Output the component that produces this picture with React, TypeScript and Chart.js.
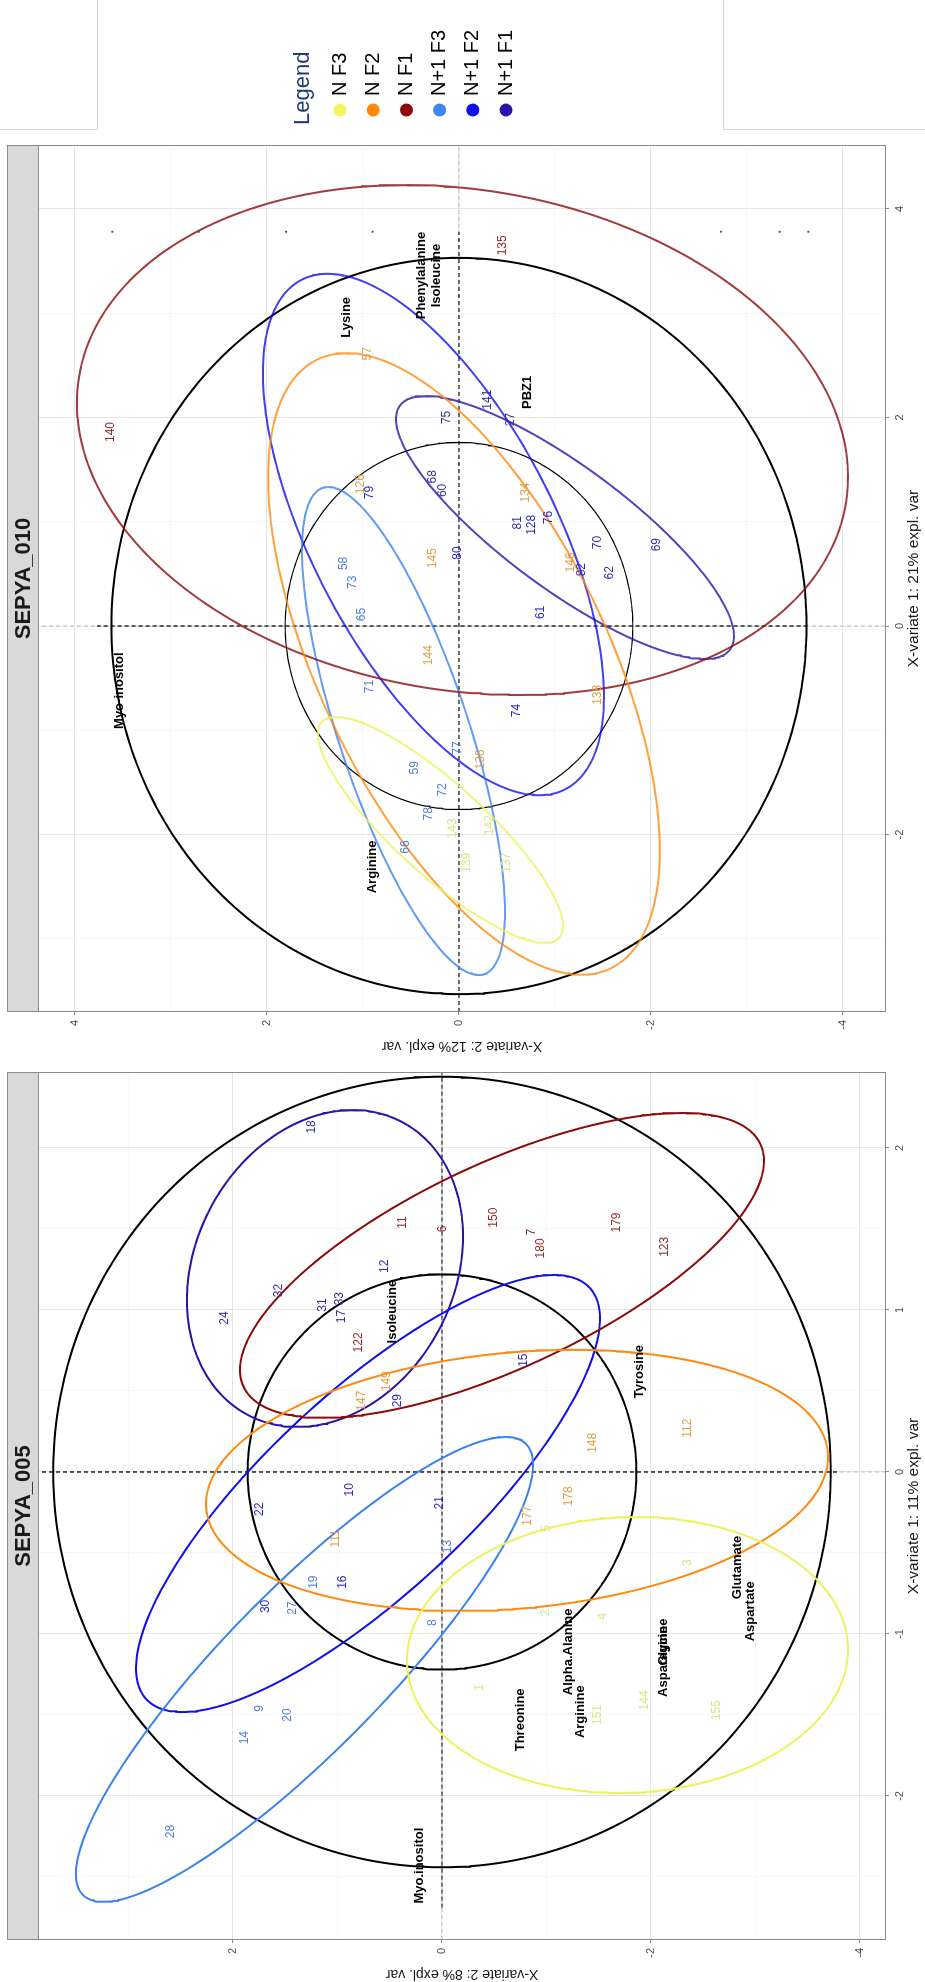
import React, { useEffect, useRef } from "react";
import { Chart, registerables } from "chart.js";

Chart.register(...registerables);

const FONT = '"Liberation Sans", Arial, Helvetica, sans-serif';
Chart.defaults.font.family = FONT;

// ---------- groups / legend ----------
const legendTitle = "Legend";
const groupNames = ["N F3", "N F2", "N F1", "N+1 F3", "N+1 F2", "N+1 F1"];
const groupColors = ["#EEF25A", "#FF8A0D", "#8B0A0A", "#3B82F0", "#1010EC", "#2C12AA"];
const legendColors = ["#F4F45E", "#FF8A0D", "#8B0A0A", "#3B86F2", "#0E0EF0", "#2C12AA"];
const groupTextColors = ["#DDE48A", "#DDA048", "#8E2B2B", "#4F7FD6", "#2828C4", "#35309A"];

// ---------- panel SEPYA_005 ----------
const p005Title = "SEPYA_005";
const p005XTitle = "X-variate 1: 11% expl. var";
const p005YTitle = "X-variate 2: 8% expl. var";
const p005XRange = [-2.889, 2.469];
const p005YRange = [-4.249, 3.866];
const p005XMajor = [-2, -1, 0, 1, 2];
const p005XMinor = [-2.5, -1.5, -0.5, 0.5, 1.5];
const p005YMajor = [-4, -2, 0, 2];
const p005YMinor = [-3, -1, 1, 3];
const p005EllC1 = [-1.13, -0.052, 1.275, -1.219, -0.133, 1.256];
const p005EllC2 = [-1.775, -0.718, -0.574, 1.316, 0.708, 1.12];
const p005EllR1 = [0.852, 0.806, 0.941, 1.435, 1.349, 0.978];
const p005EllR2 = [2.11, 2.976, 2.507, 2.187, 2.22, 1.321];
const p005EllRho = [-0.04, -0.18, -0.685, -0.88, -0.8, -0.2];
const p005CircR1 = [2.44, 1.22];
const p005CircR2 = [3.72, 1.86];
const p005ZeroAlongV1 = [-2.69, 2.469];
const p005ZeroAlongV2 = [-3.78, 3.866];
const p005Ids = ["18", "32", "24", "31", "33", "17",
  "11", "6", "122", "150", "7", "180", "179", "123",
  "12", "29", "10", "22", "21", "15", "16", "30",
  "149", "147", "112", "148", "178", "177", "111",
  "13", "19", "27", "8", "9", "20", "14", "28",
  "5", "1", "2", "4", "3", "144", "151", "155"];
const p005V1 = [2.13, 1.12, 0.95, 1.03, 1.07, 0.96,
  1.54, 1.5, 0.8, 1.57, 1.48, 1.38, 1.54, 1.39,
  1.27, 0.44, -0.11, -0.23, -0.19, 0.69, -0.68, -0.83,
  0.56, 0.44, 0.27, 0.18, -0.15, -0.27, -0.41,
  -0.46, -0.68, -0.84, -0.93, -1.46, -1.5, -1.64, -2.22,
  -0.35, -1.33, -0.87, -0.89, -0.56, -1.41, -1.5, -1.47];
const p005V2 = [1.25, 1.56, 2.08, 1.14, 0.98, 0.96,
  0.38, -0.01, 0.8, -0.49, -0.86, -0.94, -1.67, -2.13,
  0.55, 0.42, 0.88, 1.74, 0.02, -0.78, 0.95, 1.69,
  0.53, 0.77, -2.35, -1.44, -1.21, -0.82, 1.02,
  -0.05, 1.23, 1.43, 0.09, 1.74, 1.48, 1.89, 2.6,
  -1.0, -0.36, -0.99, -1.54, -2.35, -1.94, -1.49, -2.63];
const p005Grp = [5, 5, 5, 5, 5, 5,
  2, 2, 2, 2, 2, 2, 2, 2,
  4, 4, 4, 4, 4, 4, 4, 4,
  1, 1, 1, 1, 1, 1, 1,
  3, 3, 3, 3, 3, 3, 3, 3,
  0, 0, 0, 0, 0, 0, 0, 0];
const p005Vars = ["Isoleucine", "Tyrosine", "Myo.inositol", "Glutamate", "Aspartate",
  "Alpha.Alanine", "Arginine", "Threonine", "Asparagine", "Glycine"];
const p005VarV1 = [0.99, 0.62, -2.43, -0.59, -0.86, -1.11, -1.48, -1.53, -1.17, -1.05];
const p005VarV2 = [0.47, -1.89, 0.22, -2.83, -2.95, -1.21, -1.32, -0.75, -2.12, -2.12];

// ---------- panel SEPYA_010 ----------
const p010Title = "SEPYA_010";
const p010XTitle = "X-variate 1: 21% expl. var";
const p010YTitle = "X-variate 2: 12% expl. var";
const p010XRange = [-3.701, 4.612];
const p010YRange = [-4.448, 4.385];
const p010XMajor = [-2, 0, 2, 4];
const p010XMinor = [-3, -1, 1, 3];
const p010YMajor = [-4, -2, 0, 2, 4];
const p010YMinor = [-3, -1, 1, 3];
const p010EllC1 = [-1.956, -0.364, 1.783, -1.007, 0.877, 0.944];
const p010EllC2 = [0.193, -0.052, -0.036, 0.578, 0.266, -1.104];
const p010EllR1 = [1.083, 2.98, 2.445, 2.34, 2.5, 1.261];
const p010EllR2 = [1.276, 2.04, 4.016, 1.057, 1.776, 1.76];
const p010EllRho = [0.85, 0.6, 0.145, 0.74, 0.62, 0.825];
const p010CircR1 = [3.53, 1.76];
const p010CircR2 = [3.62, 1.81];
const p010ZeroAlongV1 = [-3.701, 3.78];
const p010ZeroAlongV2 = [-3.63, 3.77];
const p010Ids = ["140", "135",
  "57", "126", "145", "144", "134", "146", "138", "136",
  "75", "68", "60", "141", "27", "81", "70", "69", "62",
  "79", "76", "128", "82", "80", "61", "74",
  "58", "73", "65", "71", "59", "72", "77", "78", "66",
  "143", "139", "142", "137"];
const p010V1 = [1.86, 3.65,
  2.61, 1.36, 0.65, -0.28, 1.28, 0.61, -0.66, -1.28,
  2.0, 1.43, 1.3, 2.17, 1.98, 0.99, 0.8, 0.78, 0.51,
  1.28, 1.04, 0.97, 0.54, 0.7, 0.13, -0.81,
  0.6, 0.42, 0.11, -0.58, -1.36, -1.57, -1.17, -1.8, -2.12,
  -1.94, -2.27, -1.91, -2.27];
const p010V2 = [3.63, -0.46,
  0.95, 1.02, 0.27, 0.32, -0.69, -1.16, -1.44, -0.23,
  0.13, 0.27, 0.17, -0.3, -0.54, -0.61, -1.44, -2.06, -1.57,
  0.93, -0.93, -0.76, -1.28, 0.01, -0.85, -0.6,
  1.2, 1.11, 1.01, 0.93, 0.46, 0.17, 0.01, 0.32, 0.56,
  0.07, -0.08, -0.32, -0.5];
const p010Grp = [2, 2,
  1, 1, 1, 1, 1, 1, 1, 1,
  5, 5, 5, 5, 5, 5, 5, 5, 5,
  4, 4, 4, 4, 4, 4, 4,
  3, 3, 3, 3, 3, 3, 3, 3, 3,
  0, 0, 0, 0];
const p010Vars = ["Lysine", "Phenylalanine", "Isoleucine", "PBZ1", "Myo-inositol", "Arginine"];
const p010VarV1 = [2.96, 3.36, 3.36, 2.24, -0.62, -2.31];
const p010VarV2 = [1.17, 0.39, 0.23, -0.71, 3.54, 0.9];
const p010DotV1 = [3.78, 3.78, 3.78, 3.78, 3.78, 3.78, 3.78,
  -3.854, -3.854, -3.854, -3.854, -3.854, -3.854, -3.854, -3.854];
const p010DotV2 = [3.61, 2.71, 1.8, 0.9, -2.73, -3.34, -3.64,
  3.61, 2.71, 1.8, 0.9, -0.92, -1.81, -2.73, -3.64];

// ---------- helpers ----------
function hexA(hex: string, a: number) {
  const n = parseInt(hex.slice(1), 16);
  return `rgba(${(n >> 16) & 255},${(n >> 8) & 255},${n & 255},${a})`;
}

function ellipsePts(c1: number, c2: number, r1: number, r2: number, rho: number, n = 260) {
  const phi = Math.acos(Math.max(-1, Math.min(1, rho)));
  const pts: { x: number; y: number }[] = [];
  for (let k = 0; k <= n; k++) {
    const t = (2 * Math.PI * k) / n;
    pts.push({ x: c1 + r1 * Math.cos(t), y: c2 + r2 * Math.cos(t + phi) });
  }
  return pts;
}

const labelPlugin = {
  id: "pointText",
  afterDatasetsDraw(chart: any) {
    const ctx = chart.ctx;
    chart.data.datasets.forEach((ds: any, i: number) => {
      if (!ds.pointTexts) return;
      const meta = chart.getDatasetMeta(i);
      ctx.save();
      ctx.font = ds.textFont;
      ctx.fillStyle = ds.textColor;
      ctx.textAlign = "center";
      ctx.textBaseline = "middle";
      meta.data.forEach((el: any, j: number) => {
        ctx.fillText(ds.pointTexts[j], el.x, el.y);
      });
      ctx.restore();
    });
  },
};

const panelPlugin = {
  id: "panelDeco",
  afterDraw(chart: any, _args: any, opts: any) {
    const { ctx, chartArea: a } = chart;
    ctx.save();
    ctx.fillStyle = "#D9D9D9";
    ctx.fillRect(a.left, 7, a.right - a.left, a.top - 7);
    ctx.strokeStyle = "#8C8C8C";
    ctx.lineWidth = 1;
    ctx.strokeRect(a.left + 0.5, 7.5, a.right - a.left - 1, a.top - 7);
    ctx.fillStyle = "#1A1A1A";
    ctx.font = `bold 22px ${FONT}`;
    ctx.textAlign = "center";
    ctx.textBaseline = "middle";
    ctx.fillText(opts.title, (a.left + a.right) / 2, (7 + a.top) / 2 + 1);
    ctx.strokeStyle = "#8C8C8C";
    ctx.strokeRect(a.left + 0.5, a.top + 0.5, a.right - a.left - 1, a.bottom - a.top - 1);
    ctx.restore();
  },
};

const legendPlugin = {
  id: "sideLegend",
  afterDraw(chart: any, _args: any, opts: any) {
    if (!opts || !opts.show) return;
    const { ctx, width: W, height: H } = chart;
    const x0 = W - 130;
    ctx.save();
    ctx.strokeStyle = "#D6D6D6";
    ctx.lineWidth = 1;
    ctx.beginPath();
    ctx.moveTo(x0, 97.5); ctx.lineTo(W, 97.5);
    ctx.moveTo(x0, 723.5); ctx.lineTo(W, 723.5);
    ctx.moveTo(x0 + 0.5, 0); ctx.lineTo(x0 + 0.5, 97);
    ctx.moveTo(x0 + 0.5, 724); ctx.lineTo(x0 + 0.5, H);
    ctx.stroke();
    ctx.textAlign = "left";
    ctx.textBaseline = "middle";
    ctx.font = `22px ${FONT}`;
    ctx.fillStyle = "#1D3C6E";
    ctx.fillText(legendTitle, W - 125, 303);
    groupNames.forEach((name, g) => {
      const y = 340 + g * 33.2;
      ctx.beginPath();
      ctx.arc(W - 110, y, 6.5, 0, Math.PI * 2);
      ctx.fillStyle = legendColors[g];
      ctx.fill();
      ctx.fillStyle = "#000";
      ctx.font = `20px ${FONT}`;
      ctx.fillText(name, W - 96, y);
    });
    ctx.restore();
  },
};

function axis(range: number[], major: number[], minor: number[], title: string, isX: boolean, titleSize: number) {
  const all = [...major, ...minor].sort((a, b) => a - b);
  const isMajor = (v: any) => major.includes(v);
  return {
    type: "linear",
    position: isX ? "bottom" : "left",
    min: range[0],
    max: range[1],
    bounds: "data",
    afterBuildTicks: (s: any) => {
      s.ticks = all.map((v) => ({ value: v }));
    },
    afterFit: (s: any) => {
      if (isX) s.height = 39;
      else s.width = 42;
    },
    grid: {
      color: (c: any) => (isMajor(c.tick && c.tick.value) ? "#E6E6E6" : "#F3F3F3"),
      lineWidth: (c: any) => (isMajor(c.tick && c.tick.value) ? 1 : 0.7),
      tickColor: (c: any) => (isMajor(c.tick && c.tick.value) ? "#8A8A8A" : "rgba(0,0,0,0)"),
      tickLength: 3,
      drawTicks: true,
    },
    border: { display: false },
    ticks: {
      autoSkip: false,
      maxRotation: 0,
      minRotation: 0,
      padding: isX ? 4 : 5,
      color: "#4D4D4D",
      font: { family: FONT, size: 11 },
      callback: (v: any) => (isMajor(v) ? String(v) : ""),
    },
    title: {
      display: true,
      text: title,
      color: "#1A1A1A",
      font: { family: FONT, size: titleSize },
      padding: isX ? { top: 0, bottom: 2 } : { top: 0, bottom: 0 },
    },
  };
}

type PanelSpec = {
  title: string; xTitle: string; yTitle: string;
  xRange: number[]; yRange: number[];
  xMajor: number[]; xMinor: number[]; yMajor: number[]; yMinor: number[];
  ellC1: number[]; ellC2: number[]; ellR1: number[]; ellR2: number[]; ellRho: number[];
  circR1: number[]; circR2: number[]; zeroV1: number[]; zeroV2: number[];
  ids: string[]; v1: number[]; v2: number[]; grp: number[];
  vars: string[]; varV1: number[]; varV2: number[];
  dotV1?: number[]; dotV2?: number[];
  alpha: number; innerWidth: number; padRight: number; legend: boolean;
};

function makeConfig(p: PanelSpec): any {
  const ds: any[] = [];
  const line = (data: any[], color: string, width: number, order: number, dash?: number[]) => ({
    data, showLine: true, borderColor: color, borderWidth: width, borderDash: dash || [],
    pointRadius: 0, fill: false, tension: 0, order,
  });
  // full-length faint zero lines
  ds.push(line([{ x: 0, y: p.yRange[0] }, { x: 0, y: p.yRange[1] }], "#BDBDBD", 1, 40, [4, 3]));
  ds.push(line([{ x: p.xRange[0], y: 0 }, { x: p.xRange[1], y: 0 }], "#BDBDBD", 1, 40, [4, 3]));
  // black zero lines
  ds.push(line([{ x: 0, y: p.zeroV2[0] }, { x: 0, y: p.zeroV2[1] }], "#000", 1.2, 30, [4, 3]));
  ds.push(line([{ x: p.zeroV1[0], y: 0 }, { x: p.zeroV1[1], y: 0 }], "#000", 1.2, 30, [4, 3]));
  // correlation circles
  p.circR1.forEach((r1, k) => {
    ds.push(line(ellipsePts(0, 0, r1, p.circR2[k], 0), "#000", k === 0 ? 2 : p.innerWidth, 20));
  });
  // group ellipses
  groupNames.forEach((_, g) => {
    ds.push(line(ellipsePts(p.ellC1[g], p.ellC2[g], p.ellR1[g], p.ellR2[g], p.ellRho[g]),
      hexA(groupColors[g], p.alpha), 2, 10));
  });
  // sample labels
  groupNames.forEach((_, g) => {
    const idx = p.ids.map((_, i) => i).filter((i) => p.grp[i] === g);
    ds.push({
      data: idx.map((i) => ({ x: p.v1[i], y: p.v2[i] })),
      pointTexts: idx.map((i) => p.ids[i]),
      textColor: groupTextColors[g],
      textFont: `12px ${FONT}`,
      pointRadius: 0,
      showLine: false,
      order: 2,
    });
  });
  // variable labels
  ds.push({
    data: p.vars.map((_, i) => ({ x: p.varV1[i], y: p.varV2[i] })),
    pointTexts: p.vars,
    textColor: "#000",
    textFont: `bold 13px ${FONT}`,
    pointRadius: 0,
    showLine: false,
    order: 1,
  });
  if (p.dotV1 && p.dotV2) {
    const dv2 = p.dotV2;
    ds.push({
      data: p.dotV1.map((v, i) => ({ x: v, y: dv2[i] })),
      pointRadius: 1.1,
      pointBackgroundColor: "#555",
      pointBorderWidth: 0,
      showLine: false,
      clip: false,
      order: 5,
    });
  }
  return {
    type: "scatter",
    data: { datasets: ds },
    options: {
      responsive: false,
      animation: false,
      events: [],
      layout: { padding: { left: 0, right: p.padRight, top: 38, bottom: 0 } },
      plugins: {
        legend: { display: false },
        tooltip: { enabled: false },
        panelDeco: { title: p.title },
        sideLegend: { show: p.legend },
      },
      scales: {
        x: axis(p.xRange, p.xMajor, p.xMinor, p.xTitle, true, 15.5),
        y: axis(p.yRange, p.yMajor, p.yMinor, p.yTitle, false, 14),
      },
    },
    plugins: [labelPlugin, panelPlugin, legendPlugin],
  };
}

const panel005: PanelSpec = {
  title: p005Title, xTitle: p005XTitle, yTitle: p005YTitle,
  xRange: p005XRange, yRange: p005YRange,
  xMajor: p005XMajor, xMinor: p005XMinor, yMajor: p005YMajor, yMinor: p005YMinor,
  ellC1: p005EllC1, ellC2: p005EllC2, ellR1: p005EllR1, ellR2: p005EllR2, ellRho: p005EllRho,
  circR1: p005CircR1, circR2: p005CircR2, zeroV1: p005ZeroAlongV1, zeroV2: p005ZeroAlongV2,
  ids: p005Ids, v1: p005V1, v2: p005V2, grp: p005Grp,
  vars: p005Vars, varV1: p005VarV1, varV2: p005VarV2,
  alpha: 1, innerWidth: 2, padRight: 18, legend: false,
};

const panel010: PanelSpec = {
  title: p010Title, xTitle: p010XTitle, yTitle: p010YTitle,
  xRange: p010XRange, yRange: p010YRange,
  xMajor: p010XMajor, xMinor: p010XMinor, yMajor: p010YMajor, yMinor: p010YMinor,
  ellC1: p010EllC1, ellC2: p010EllC2, ellR1: p010EllR1, ellR2: p010EllR2, ellRho: p010EllRho,
  circR1: p010CircR1, circR2: p010CircR2, zeroV1: p010ZeroAlongV1, zeroV2: p010ZeroAlongV2,
  ids: p010Ids, v1: p010V1, v2: p010V2, grp: p010Grp,
  vars: p010Vars, varV1: p010VarV1, varV2: p010VarV2,
  dotV1: p010DotV1, dotV2: p010DotV2,
  alpha: 0.8, innerWidth: 1.2, padRight: 145, legend: true,
};

export default function App() {
  const refA = useRef<HTMLCanvasElement>(null);
  const refB = useRef<HTMLCanvasElement>(null);
  useEffect(() => {
    const a = new Chart(refA.current as HTMLCanvasElement, makeConfig(panel005));
    const b = new Chart(refB.current as HTMLCanvasElement, makeConfig(panel010));
    return () => {
      a.destroy();
      b.destroy();
    };
  }, []);
  return (
    <div style={{ position: "absolute", left: 0, top: 0, width: 925, height: 1982, overflow: "hidden", background: "#fff" }}>
      <div
        style={{
          position: "absolute", left: 0, top: 0, width: 1982, height: 925,
          transformOrigin: "0 0", transform: "translateY(1982px) rotate(-90deg)",
        }}
      >
        <canvas ref={refA} width={928} height={925}
          style={{ position: "absolute", left: 0, top: 0, width: 928, height: 925 }} />
        <canvas ref={refB} width={1054} height={925}
          style={{ position: "absolute", left: 928, top: 0, width: 1054, height: 925 }} />
      </div>
    </div>
  );
}
